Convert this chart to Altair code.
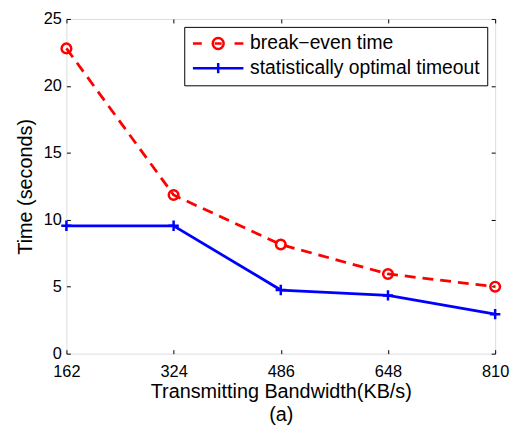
import altair as alt
import pandas as pd

bandwidth = [162, 324, 486, 648, 810]
break_even = [22.8, 11.85, 8.15, 5.95, 5.0]
stat_opt = [9.55, 9.55, 4.75, 4.35, 2.95]
series_names = ["break\u2212even time", "statistically optimal timeout"]
x_ticks = [162, 324, 486, 648, 810]
y_ticks = [0, 5, 10, 15, 20, 25]

rows = []
for b, v in zip(bandwidth, break_even):
    rows.append({"bw": b, "t": v, "series": series_names[0]})
for b, v in zip(bandwidth, stat_opt):
    rows.append({"bw": b, "t": v, "series": series_names[1]})
df = pd.DataFrame(rows)

FONT = "Liberation Sans"
xscale = alt.Scale(domain=[162, 810], nice=False, zero=False)
yscale = alt.Scale(domain=[0, 25], nice=False)

x_main = alt.X("bw:Q", scale=xscale, axis=alt.Axis(
    orient="bottom", values=x_ticks, domain=False, offset=-4, tickSize=4,
    tickColor="black", tickWidth=1, labelPadding=10, labelFontSize=16.5,
    labelFont=FONT, labelColor="black", labelFlush=False,
    title=["Transmitting Bandwidth(KB/s)", "(a)"], titleFont=FONT,
    titleFontSize=20, titleFontWeight="normal", titleColor="black",
    titlePadding=2, titleLineHeight=23, grid=False))
y_main = alt.Y("t:Q", scale=yscale, axis=alt.Axis(
    orient="left", values=y_ticks, domain=False, offset=-4, tickSize=4,
    tickColor="black", tickWidth=1, labelPadding=5, labelFontSize=16.5,
    labelFont=FONT, labelColor="black", title="Time (seconds)",
    titleFont=FONT, titleFontSize=20, titleFontWeight="normal",
    titleColor="black", titlePadding=8, grid=False))
x_top = alt.X("bw:Q", scale=xscale, axis=alt.Axis(
    orient="top", values=x_ticks, domain=False, offset=-4, tickSize=4,
    tickColor="black", labels=False, title=None, grid=False))
y_right = alt.Y("t:Q", scale=yscale, axis=alt.Axis(
    orient="right", values=y_ticks, domain=False, offset=-4, tickSize=4,
    tickColor="black", labels=False, title=None, grid=False))
x_none = alt.X("bw:Q", scale=xscale, axis=None)
y_none = alt.Y("t:Q", scale=yscale, axis=None)

base = alt.Chart(df)
be = base.transform_filter(alt.datum.series == series_names[0])
so = base.transform_filter(alt.datum.series == series_names[1])

red_line = be.mark_line(color="#ff0000", strokeDash=[11, 7],
                        strokeWidth=2.8).encode(x=x_main, y=y_main)
blue_line = so.mark_line(color="#0000ff", strokeWidth=2.8).encode(x=x_none, y=y_none)
red_pts = be.mark_point(shape="circle", size=95, filled=False, color="#ff0000",
                        strokeWidth=2.5, opacity=1).encode(x=x_none, y=y_none)
blue_pts = so.mark_point(shape="M-1,0H1M0,-1V1", size=110, filled=False,
                         color="#0000ff", strokeWidth=2.5,
                         opacity=1).encode(x=x_none, y=y_none)

red_sym = ("M-1,0H0.125M4.25,0H5.375M1.75,0H2.63"
           "M2.88,0A0.69,0.69,0,1,1,1.5,0A0.69,0.69,0,1,1,2.88,0")
blue_sym = "M-1,0H5.375M2.19,-0.65V0.65"

leg = alt.Legend(title=None, orient="top-right", offset=8,
                 strokeColor="black", fillColor="white", padding=7,
                 labelFont=FONT, labelFontSize=19.5, labelColor="black",
                 labelLimit=400, symbolSize=256, symbolStrokeWidth=2.5,
                 symbolOpacity=1, rowPadding=3, labelOffset=40,
                 cornerRadius=0)

legend_layer = base.mark_point(opacity=0, filled=False, strokeWidth=2.5).encode(
    x=x_top, y=y_right,
    color=alt.Color("series:N", scale=alt.Scale(domain=series_names,
                                                range=["#ff0000", "#0000ff"]),
                    legend=leg),
    shape=alt.Shape("series:N", scale=alt.Scale(domain=series_names,
                                                range=[red_sym, blue_sym]),
                    legend=leg),
)

chart = alt.layer(red_line, blue_line, red_pts, blue_pts, legend_layer).resolve_axis(
    x="independent", y="independent"
).properties(
    width=433, height=338,
    autosize=alt.AutoSizeParams(type="none"),
    padding={"left": 59, "top": 9, "right": 16, "bottom": 70},
).configure_view(stroke="black", strokeWidth=1).configure(background="white")

chart.save("out.html", embed_options={"renderer": "svg", "actions": False})
